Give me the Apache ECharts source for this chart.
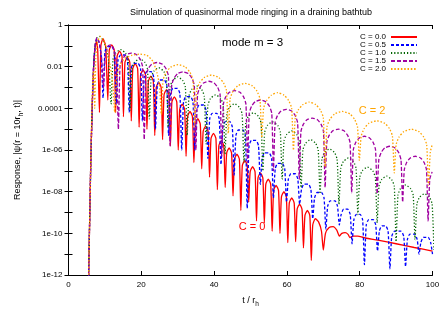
<!DOCTYPE html>
<html><head><meta charset="utf-8">
<script src="https://cdn.jsdelivr.net/npm/echarts/dist/echarts.min.js"></script>
<style>html,body{margin:0;padding:0;background:#fff}#c{width:447px;height:313px}</style>
</head><body><div id="c"></div>
<script>
const titleText = 'Simulation of quasinormal mode ringing in a draining bathtub';
const seriesNames = ['C = 0.0', 'C = 0.5', 'C = 1.0', 'C = 1.5', 'C = 2.0'];
const yTickLabels = ['1', '0.01', '0.0001', '1e-06', '1e-08', '1e-10', '1e-12'];
const modeText = 'mode m = 3';
const labelC2 = 'C = 2';
const labelC0 = 'C = 0';

// [t / r_h, log10 |psi|]
const c00 = [
[5.5,-12.3],[5.8,-9.5],[6.1,-6.8],[6.5,-4.0],[6.9,-2.0],[7.3,-1.1],[7.7,-0.8],[8.05,-1.3],[8.5,-4.2],[8.9,-1.0],[9.45,-0.65],[10.2,-1.0],[10.8,-3.6],
[11.2,-1.2],[11.88,-0.95],[12.55,-1.2],[12.95,-4.2],
[13.35,-1.5],[14.03,-1.25],[14.7,-1.5],[15.1,-4.4],
[15.5,-1.8],[16.18,-1.55],[16.85,-1.8],[17.25,-4.6],
[17.65,-2.1],[18.33,-1.85],[19.0,-2.1],[19.4,-4.9],
[19.8,-2.4],[20.48,-2.15],[21.15,-2.4],[21.55,-5.0],
[21.95,-2.7],[22.63,-2.45],[23.3,-2.7],[23.7,-5.3],
[24.1,-3.0],[24.78,-2.75],[25.45,-3.0],[25.85,-5.5],
[26.25,-3.35],[26.93,-3.1],[27.6,-3.35],[28.0,-5.8],
[28.4,-3.7],[29.08,-3.45],[29.75,-3.7],[30.15,-6.0],
[30.55,-4.05],[31.23,-3.8],[31.9,-4.05],[32.3,-6.3],
[32.7,-4.4],[33.38,-4.15],[34.05,-4.4],[34.45,-6.6],
[34.85,-4.75],[35.53,-4.5],[36.2,-4.75],[36.6,-6.9],
[37.0,-5.1],[37.68,-4.85],[38.35,-5.1],[38.75,-7.3],
[39.15,-5.45],[39.83,-5.2],[40.5,-5.45],[40.9,-7.9],
[41.3,-5.8],[41.98,-5.55],[42.65,-5.8],[43.05,-7.8],
[43.45,-6.15],[44.13,-5.9],[44.8,-6.15],[45.2,-8.2],
[45.6,-6.45],[46.28,-6.2],[46.95,-6.45],[47.35,-8.9],
[47.75,-6.75],[48.43,-6.5],[49.1,-6.75],[49.5,-8.5],
[49.9,-7.05],[50.58,-6.8],[51.25,-7.05],[51.65,-9.4],
[52.05,-7.35],[52.73,-7.1],[53.4,-7.35],[53.8,-9.5],
[54.2,-7.65],[54.88,-7.4],[55.55,-7.65],[55.95,-9.9],
[56.35,-7.95],[57.03,-7.7],[57.7,-7.95],[58.1,-10.0],
[58.5,-8.25],[59.18,-8.0],[59.85,-8.25],[60.25,-10.45],
[60.65,-8.55],[61.33,-8.3],[62.0,-8.55],[62.4,-10.4],
[62.8,-8.85],[63.48,-8.6],[64.15,-8.85],[64.55,-10.7],
[64.95,-9.15],[65.63,-8.9],[66.3,-9.15],[66.7,-11.3],
[67.1,-9.6],[67.8,-9.3],[68.7,-9.45],[69.5,-9.9],[70.0,-10.8],[70.6,-10.0],[71.6,-9.72],[72.7,-9.68],[73.7,-9.85],[74.4,-10.13],
[75.1,-10.0],[76.0,-9.97],[76.8,-10.05],[77.3,-10.2],[78.2,-10.13],[79.5,-10.13],[81,-10.2],[85,-10.33],[90,-10.5],[95,-10.68],[100,-10.85]
];
const c05 = [
[5.5,-12.3],[5.8,-9.5],[6.1,-6.8],[6.5,-4.0],[6.9,-2.0],[7.3,-1.0],[7.8,-0.65],[8.4,-0.85],[9.0,-1.5],[9.5,-3.5],
[10.0,-1.3],[10.7,-1.04],[11.9,-1.04],[12.6,-1.3],[13.1,-3.8],
[13.6,-1.7],[14.3,-1.44],[15.5,-1.44],[16.2,-1.7],[16.7,-4.2],
[17.2,-2.1],[17.9,-1.84],[19.1,-1.84],[19.8,-2.1],[20.3,-4.6],
[20.8,-2.5],[21.5,-2.24],[22.7,-2.24],[23.4,-2.5],[23.9,-5.0],
[24.4,-2.9],[25.1,-2.64],[26.3,-2.64],[27.0,-2.9],[27.5,-5.3],
[28.0,-3.3],[28.7,-3.04],[29.9,-3.04],[30.6,-3.3],[31.1,-6.0],
[31.6,-3.7],[32.3,-3.44],[33.5,-3.44],[34.2,-3.7],[34.7,-6.0],
[35.2,-4.1],[35.9,-3.84],[37.1,-3.84],[37.8,-4.1],[38.3,-6.4],
[38.8,-4.5],[39.5,-4.24],[40.7,-4.24],[41.4,-4.5],[41.9,-6.7],
[42.4,-4.9],[43.1,-4.64],[44.3,-4.64],[45.0,-4.9],[45.5,-7.2],
[46.0,-5.3],[46.7,-5.04],[47.9,-5.04],[48.6,-5.3],[49.1,-8.8],
[49.6,-5.8],[50.3,-5.54],[51.5,-5.54],[52.2,-5.8],[52.7,-7.65],
[53.2,-6.4],[53.9,-6.14],[55.1,-6.14],[55.8,-6.4],[56.3,-8.3],
[56.8,-6.9],[57.5,-6.64],[58.7,-6.64],[59.4,-6.9],[59.9,-8.5],
[60.4,-7.4],[61.1,-7.14],[62.3,-7.14],[63.0,-7.4],[63.5,-8.6],
[64.0,-7.9],[64.7,-7.64],[65.9,-7.64],[66.6,-7.9],[67.1,-9.3],
[67.6,-8.3],[68.3,-8.04],[69.5,-8.04],[70.2,-8.3],[70.7,-9.8],
[71.2,-8.7],[71.9,-8.44],[73.2,-8.44],[73.9,-8.7],[74.4,-9.6],
[74.9,-9.1],[75.6,-8.84],[76.7,-8.84],[77.4,-9.1],[77.9,-10.5],
[78.4,-9.35],[79.1,-9.09],[80.1,-9.09],[80.8,-9.35],[81.3,-11.5],
[81.8,-9.6],[82.5,-9.34],[83.7,-9.34],[84.4,-9.6],[84.9,-10.85],
[85.4,-9.9],[86.1,-9.64],[87.1,-9.64],[87.8,-9.9],[88.3,-11.7],
[88.8,-10.15],[89.6,-9.89],[91.3,-9.89],[92.1,-10.15],[92.6,-11.6],
[93.1,-10.3],[93.8,-10.04],[95.1,-10.04],[95.8,-10.3],[96.3,-11.0],
[96.8,-10.45],[97.5,-10.19],[98.8,-10.19],[99.5,-10.45],[100.0,-11.0]
];
const c10 = [
[5.5,-12.3],[5.8,-9.5],[6.1,-6.8],[6.5,-4.0],[6.9,-2.0],[7.3,-1.0],[7.9,-0.6],[8.6,-0.55],[9.4,-0.7],[10.3,-1.1],[11.0,-1.7],[11.7,-3.8],
[12.2,-1.68],[12.9,-1.36],[14.3,-1.18],[15.7,-1.36],[16.4,-1.68],[16.9,-4.1],
[17.4,-2.12],[18.1,-1.8],[19.55,-1.62],[21.0,-1.8],[21.7,-2.12],[22.2,-4.5],
[22.7,-2.55],[23.4,-2.23],[24.8,-2.05],[26.2,-2.23],[26.9,-2.55],[27.4,-4.9],
[27.9,-2.99],[28.6,-2.67],[30.0,-2.49],[31.4,-2.67],[32.1,-2.99],[32.6,-5.3],
[33.1,-3.42],[33.8,-3.1],[35.2,-2.92],[36.6,-3.1],[37.3,-3.42],[37.8,-5.7],
[38.3,-3.85],[39.0,-3.53],[40.4,-3.35],[41.8,-3.53],[42.5,-3.85],[43.0,-6.2],
[43.5,-4.28],[44.2,-3.96],[45.6,-3.78],[47.0,-3.96],[47.7,-4.28],[48.2,-6.6],
[48.7,-4.71],[49.4,-4.39],[50.8,-4.21],[52.2,-4.39],[52.9,-4.71],[53.4,-7.0],
[53.9,-5.15],[54.6,-4.83],[56.05,-4.65],[57.5,-4.83],[58.2,-5.15],[58.7,-7.4],
[59.2,-5.58],[59.9,-5.26],[61.3,-5.08],[62.7,-5.26],[63.4,-5.58],[63.9,-7.8],
[64.4,-6.0],[65.1,-5.68],[66.5,-5.5],[67.9,-5.68],[68.6,-6.0],[69.1,-8.1],
[69.6,-6.45],[70.3,-6.13],[71.7,-5.95],[73.1,-6.13],[73.8,-6.45],[74.3,-8.6],
[74.8,-6.88],[75.5,-6.56],[76.9,-6.38],[78.3,-6.56],[79.0,-6.88],[79.5,-9.1],
[80.0,-7.32],[80.7,-7.0],[82.15,-6.82],[83.6,-7.0],[84.3,-7.32],[84.8,-9.5],
[85.3,-7.75],[86.0,-7.43],[87.4,-7.25],[88.8,-7.43],[89.5,-7.75],[90.0,-10.4],
[90.5,-8.18],[91.2,-7.86],[92.6,-7.68],[94.0,-7.86],[94.7,-8.18],[95.2,-10.3],
[95.7,-8.6],[96.4,-8.28],[97.8,-8.1],[99.2,-8.28],[99.9,-8.6],[100.4,-10.8]
];
const c15 = [
[5.5,-12.3],[5.8,-9.5],[6.1,-6.8],[6.5,-4.0],[6.9,-2.0],[7.3,-1.0],[7.8,-0.6],[8.4,-0.8],[9.1,-1.6],[9.6,-3.0],[10.1,-1.5],[10.9,-1.0],[11.7,-0.95],[12.6,-1.25],[13.2,-1.95],[13.7,-5.0],
[14.15,-2.0],[14.8,-1.65],[15.8,-1.43],[17.25,-1.35],[18.7,-1.43],[19.7,-1.65],[20.35,-2.0],[20.8,-5.5],
[21.25,-2.45],[21.9,-2.1],[22.9,-1.88],[24.35,-1.8],[25.8,-1.88],[26.8,-2.1],[27.45,-2.45],[27.9,-5.8],
[28.35,-2.9],[29.0,-2.55],[30.0,-2.33],[31.45,-2.25],[32.9,-2.33],[33.9,-2.55],[34.55,-2.9],[35.0,-6.0],
[35.45,-3.35],[36.1,-3.0],[37.1,-2.78],[38.55,-2.7],[40.0,-2.78],[41.0,-3.0],[41.65,-3.35],[42.1,-6.3],
[42.55,-3.8],[43.2,-3.45],[44.2,-3.23],[45.65,-3.15],[47.1,-3.23],[48.1,-3.45],[48.75,-3.8],[49.2,-6.6],
[49.65,-4.25],[50.3,-3.9],[51.3,-3.68],[52.75,-3.6],[54.2,-3.68],[55.2,-3.9],[55.85,-4.25],[56.3,-7.0],
[56.75,-4.7],[57.4,-4.35],[58.4,-4.13],[59.85,-4.05],[61.3,-4.13],[62.3,-4.35],[62.95,-4.7],[63.4,-7.4],
[63.85,-5.12],[64.5,-4.77],[65.5,-4.55],[66.95,-4.47],[68.4,-4.55],[69.4,-4.77],[70.05,-5.12],[70.5,-7.8],
[70.95,-5.65],[71.6,-5.3],[72.6,-5.08],[74.15,-5.0],[75.7,-5.08],[76.7,-5.3],[77.35,-5.65],[77.8,-8.05],
[78.25,-5.99],[78.9,-5.64],[79.9,-5.42],[81.3,-5.34],[82.7,-5.42],[83.7,-5.64],[84.35,-5.99],[84.8,-8.1],
[85.25,-6.47],[85.9,-6.12],[86.9,-5.9],[88.3,-5.82],[89.7,-5.9],[90.7,-6.12],[91.35,-6.47],[91.8,-8.5],
[92.25,-6.95],[92.9,-6.6],[93.9,-6.38],[95.3,-6.3],[96.7,-6.38],[97.7,-6.6],[98.35,-6.95],[98.8,-9.4],
[99.25,-7.4],[99.9,-7.05]
];
const c20 = [
[5.5,-12.3],[5.8,-9.5],[6.1,-6.8],[6.4,-4.2],[6.7,-2.5],[6.95,-2.2],[7.2,-4.0],[7.5,-1.6],[8.0,-0.8],[8.7,-0.55],[9.5,-0.7],[10.4,-1.1],[11.4,-1.9],[12.2,-2.9],[12.7,-4.2],
[13.2,-2.6],[14.2,-1.9],[15.5,-1.6],[17.5,-1.45],[19.5,-1.4],[21.5,-1.45],[23.2,-1.75],[24.3,-2.3],[25.0,-2.9],[25.5,-4.3],
[26.0,-2.65],[26.8,-2.28],[28.1,-2.02],[30.1,-1.9],[32.1,-2.02],[33.4,-2.28],[34.2,-2.65],[34.7,-4.8],
[35.2,-3.15],[36.0,-2.78],[37.3,-2.52],[39.3,-2.4],[41.3,-2.52],[42.6,-2.78],[43.4,-3.15],[43.9,-5.2],
[44.4,-3.55],[45.2,-3.18],[46.5,-2.92],[48.5,-2.8],[50.5,-2.92],[51.8,-3.18],[52.6,-3.55],[53.1,-5.4],
[53.6,-4.0],[54.4,-3.63],[55.7,-3.37],[57.45,-3.25],[59.2,-3.37],[60.5,-3.63],[61.3,-4.0],[61.8,-6.0],
[62.3,-4.45],[63.1,-4.08],[64.4,-3.82],[66.15,-3.7],[67.9,-3.82],[69.2,-4.08],[70.0,-4.45],[70.5,-6.8],
[71.0,-4.9],[71.8,-4.53],[73.1,-4.27],[75.2,-4.15],[77.3,-4.27],[78.6,-4.53],[79.4,-4.9],[79.9,-6.5],
[80.4,-5.35],[81.2,-4.98],[82.5,-4.72],[84.7,-4.6],[86.9,-4.72],[88.2,-4.98],[89.0,-5.35],[89.5,-7.1],
[90.0,-5.75],[90.8,-5.38],[92.1,-5.12],[94.2,-5.0],[96.3,-5.12],[97.6,-5.38],[98.4,-5.75],[98.9,-7.7],
[99.4,-6.1],[100,-5.7]
];

const seriesData = [c00, c05, c10, c15, c20];
const colors = ['#ff0000', '#0000ff', '#006400', '#a000a0', '#ffa500'];
const dashes = ['solid', [3, 2], [1.2, 2], [4, 2], [1.5, 1.8]];
const FONT = 'Liberation Sans, Arial, sans-serif';

const chart = echarts.init(document.getElementById('c'), null, {renderer: 'canvas'});

const axisLineStyle = {color: '#000', width: 1};
const logAxisBase = {
  type: 'log', logBase: 10, min: 1e-12, max: 1, interval: 1,
  axisLine: {show: true, lineStyle: axisLineStyle},
  axisTick: {show: true, inside: true, length: 4, lineStyle: axisLineStyle},
  splitLine: {show: false}, minorTick: {show: false}
};
const linAxisBase = {
  type: 'value', min: 0, max: 100, interval: 20,
  axisLine: {show: true, lineStyle: axisLineStyle},
  axisTick: {show: true, inside: true, length: 4, lineStyle: axisLineStyle},
  splitLine: {show: false}
};

const option = {
  animation: false,
  backgroundColor: '#fff',
  grid: {left: 68.5, right: 14.5, top: 25, bottom: 37, containLabel: false},
  legend: {
    data: seriesNames, orient: 'vertical', right: 24, top: 28, align: 'right',
    itemWidth: 26, itemHeight: 9, itemGap: 0, selectedMode: false,
    itemStyle: {opacity: 0},
    textStyle: {fontSize: 8, fontFamily: FONT, color: '#000'}
  },
  xAxis: [
    Object.assign({}, linAxisBase, {
      position: 'bottom',
      axisLabel: {show: true, fontSize: 8, fontFamily: FONT, color: '#000', margin: 6},
      name: '{n|t / r}{s|h}', nameLocation: 'middle', nameGap: 19,
      nameTextStyle: {rich: {
        n: {fontSize: 9, fontFamily: FONT, color: '#000', lineHeight: 14, verticalAlign: 'middle'},
        s: {fontSize: 6.5, fontFamily: FONT, color: '#000', lineHeight: 14, verticalAlign: 'bottom'}
      }}
    }),
    Object.assign({}, linAxisBase, {position: 'top', axisLabel: {show: false}})
  ],
  yAxis: [
    Object.assign({}, logAxisBase, {
      position: 'left',
      axisLabel: {show: true, fontSize: 8, fontFamily: FONT, color: '#000', margin: 6,
        formatter: function (v) {
          const e = Math.round(Math.log10(v));
          return (e % 2 === 0) ? yTickLabels[-e / 2] : '';
        }},
      name: '{n|Response, |ψ(r = 10r}{s|h}{n|, t)|}', nameLocation: 'middle', nameGap: 44,
      nameTextStyle: {rich: {
        n: {fontSize: 9, fontFamily: FONT, color: '#000', lineHeight: 14, verticalAlign: 'middle'},
        s: {fontSize: 6.5, fontFamily: FONT, color: '#000', lineHeight: 14, verticalAlign: 'bottom'}
      }}
    }),
    Object.assign({}, logAxisBase, {position: 'right', axisLabel: {show: false}})
  ],
  series: seriesNames.map(function (name, i) {
    return {
      name: name, type: 'line', xAxisIndex: 0, yAxisIndex: 0,
      showSymbol: false, symbol: 'none', smooth: 0.2, clip: true,
      lineStyle: {color: colors[i], width: 1.3, type: dashes[i]},
      itemStyle: {color: colors[i]},
      data: seriesData[i].map(function (p) { return [p[0], Math.pow(10, p[1])]; })
    };
  }),
  graphic: [
    {type: 'text', x: 251, y: 13, silent: true, style: {text: titleText, fontSize: 9, fontFamily: FONT, fill: '#000', align: 'center', verticalAlign: 'middle'}},
    {type: 'text', x: 222, y: 43, silent: true, style: {text: modeText, fontSize: 11.5, fontFamily: FONT, fill: '#000', align: 'left', verticalAlign: 'middle'}},
    {type: 'text', x: 372, y: 111, silent: true, style: {text: labelC2, fontSize: 11, fontFamily: FONT, fill: colors[4], align: 'center', verticalAlign: 'middle'}},
    {type: 'text', x: 252, y: 227, silent: true, style: {text: labelC0, fontSize: 11, fontFamily: FONT, fill: colors[0], align: 'center', verticalAlign: 'middle'}}
  ]
};
chart.setOption(option);
</script>
</body></html>
